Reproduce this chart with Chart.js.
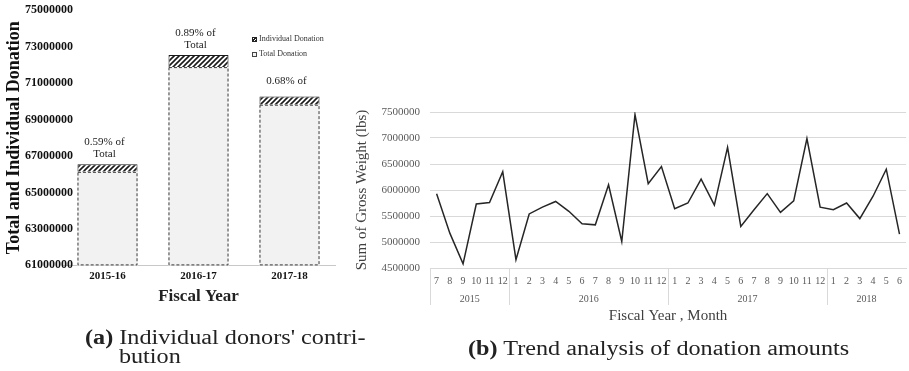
<!DOCTYPE html>
<html>
<head>
<meta charset="utf-8">
<script src="https://cdn.jsdelivr.net/npm/chart.js@4.4.1/dist/chart.umd.min.js"></script>
<style>
  body { margin: 0; background: #fff; }
  #page { position: relative; width: 909px; height: 371px; overflow: hidden; font-family: 'Liberation Serif', serif; }
  #donations { position: absolute; left: 0; top: 0; }
  #trend { position: absolute; left: 330px; top: 90px; }
  .legend { position: absolute; left: 252px; top: 31px; font-size: 8px; color: #333; line-height: 15px; }
  .legend span { display: inline-block; width: 5px; height: 5px; margin-right: 2px; vertical-align: -0.5px; box-sizing: border-box; }
  .sw-hatch { border: 1px solid #222; background: repeating-linear-gradient(-45deg, #222 0 1px, #fff 1px 2px); }
  .sw-dash { border: 1px dashed #444; background: #f2f2f2; }
  .caption { position: absolute; font-size: 20px; color: #222; line-height: 19px; transform: scaleX(1.21); transform-origin: 0 0; white-space: nowrap; }
  .caption b { font-weight: bold; }
</style>
</head>
<body>
<div id="page">
  <canvas id="donations" width="345" height="310"></canvas>
  <canvas id="trend" width="579" height="240"></canvas>
  <div class="legend">
    <div><span class="sw-hatch"></span>Individual Donation</div>
    <div><span class="sw-dash"></span>Total Donation</div>
  </div>
  <div class="caption" style="left:85px; top:328px;"><b>(a)</b> Individual donors' contri-<br><span style="padding-left:28px">bution</span></div>
  <div class="caption" style="left:468px; top:339px;"><b>(b)</b> Trend analysis of donation amounts</div>
</div>
<script>
// (a) fiscal year totals
const fiscalYears = ['2015-16', '2016-17', '2017-18'];
const totalDonation = [66130000, 71870000, 69810000];
const individualDonation = [420000, 670000, 450000];
const shareLabels = [['0.59% of', 'Total'], ['0.89% of', 'Total'], ['0.68% of']];

// (b) monthly gross weight
const months = ['7', '8', '9', '10', '11', '12',
    '1', '2', '3', '4', '5', '6', '7', '8', '9', '10', '11', '12',
    '1', '2', '3', '4', '5', '6', '7', '8', '9', '10', '11', '12',
    '1', '2', '3', '4', '5', '6'];
const years = ['2015', '2016', '2017', '2018'];
const monthsPerYear = [6, 12, 12, 6];
const grossWeight = [5930000, 5170000, 4580000, 5730000, 5760000, 6350000,
    4660000, 5540000, 5670000, 5780000, 5590000, 5350000, 5330000, 6100000, 5010000, 7450000, 6120000, 6450000,
    5640000, 5750000, 6210000, 5710000, 6820000, 5300000, 5620000, 5930000, 5570000, 5790000, 6990000, 5670000,
    5620000, 5750000, 5450000, 5880000, 6400000, 5150000];

const SERIF = "'Liberation Serif', 'Times New Roman', serif";

function hatchPattern(ctx) {
    const c = document.createElement('canvas');
    c.width = 5; c.height = 5;
    const g = c.getContext('2d');
    g.fillStyle = '#fff';
    g.fillRect(0, 0, 5, 5);
    g.strokeStyle = '#1a1a1a';
    g.lineWidth = 1.6;
    g.beginPath();
    g.moveTo(-1, 6); g.lineTo(6, -1);
    g.moveTo(-1, 1); g.lineTo(1, -1);
    g.moveTo(4, 6); g.lineTo(6, 4);
    g.stroke();
    return ctx.createPattern(c, 'repeat');
}

// dashed outline for the total bars + share labels above the stacks
const barDecor = {
    id: 'barDecor',
    afterDatasetsDraw(chart) {
        const ctx = chart.ctx;
        const bottom = chart.chartArea.bottom;
        ctx.save();
        ctx.setLineDash([3, 2]);
        ctx.strokeStyle = '#3a3a3a';
        ctx.lineWidth = 1;
        chart.getDatasetMeta(0).data.forEach(bar => {
            const p = bar.getProps(['x', 'y', 'base', 'width'], true);
            const base = Math.min(p.base, bottom);
            ctx.strokeRect(p.x - p.width / 2 + 0.5, p.y + 0.5, p.width - 1, base - p.y - 1);
        });
        ctx.setLineDash([]);
        ctx.fillStyle = '#222';
        ctx.font = '11px ' + SERIF;
        ctx.textAlign = 'center';
        ctx.textBaseline = 'middle';
        chart.getDatasetMeta(1).data.forEach((bar, i) => {
            const lines = shareLabels[i];
            const gap = lines.length > 1 ? 10 : 15;
            lines.forEach((t, j) => {
                ctx.fillText(t, bar.x - 3, bar.y - gap - (lines.length - 1 - j) * 12);
            });
        });
        ctx.restore();
    }
};

new Chart(document.getElementById('donations'), {
    type: 'bar',
    data: {
        labels: fiscalYears,
        datasets: [{
            label: 'Total Donation',
            data: totalDonation,
            backgroundColor: '#f2f2f2',
            borderWidth: 0,
            barPercentage: 0.66,
            categoryPercentage: 1
        }, {
            label: 'Individual Donation',
            data: individualDonation,
            backgroundColor: hatchPattern(document.getElementById('donations').getContext('2d')),
            borderColor: '#1a1a1a',
            borderWidth: 1,
            barPercentage: 0.66,
            categoryPercentage: 1
        }]
    },
    options: {
        responsive: false,
        animation: false,
        layout: { padding: { top: 10, right: 10, left: 0, bottom: 0 } },
        plugins: { legend: { display: false }, tooltip: { enabled: false } },
        scales: {
            x: {
                stacked: true,
                grid: { display: false, drawTicks: false },
                border: { display: true, color: '#c8c8c8' },
                ticks: { color: '#111', padding: 4, font: { family: SERIF, size: 11, weight: 'bold' } },
                title: { display: true, text: 'Fiscal Year', color: '#222', padding: { top: 0, bottom: 3 },
                    font: { family: SERIF, size: 17, weight: 'bold' } }
            },
            y: {
                stacked: true,
                min: 61000000,
                max: 75000000,
                grid: { display: false, drawTicks: false },
                border: { display: false },
                ticks: { stepSize: 2000000, mirror: true, padding: -37, color: '#111',
                    font: { family: SERIF, size: 12, weight: 'bold' },
                    callback: v => String(v) },
                title: { display: true, text: 'Total and Individual Donation', color: '#111', padding: { top: 4, bottom: 0 },
                    font: { family: SERIF, size: 18, weight: 'bold' } },
                afterFit: s => { s.width = 62; }
            }
        }
    },
    plugins: [barDecor]
});

// year grouping row under the month labels
const yearRow = {
    id: 'yearRow',
    afterDraw(chart) {
        const xs = chart.scales.x;
        const area = chart.chartArea;
        const ctx = chart.ctx;
        const step = xs.getPixelForValue(1) - xs.getPixelForValue(0);
        ctx.save();
        ctx.strokeStyle = '#d9d9d9';
        ctx.lineWidth = 1;
        ctx.fillStyle = '#595959';
        ctx.font = '10px ' + SERIF;
        ctx.textAlign = 'center';
        ctx.textBaseline = 'middle';
        let idx = 0;
        years.forEach((yr, i) => {
            const n = monthsPerYear[i];
            const x0 = xs.getPixelForValue(idx) - step / 2;
            const x1 = xs.getPixelForValue(idx + n - 1) + step / 2;
            ctx.beginPath();
            ctx.moveTo(Math.round(x0) + 0.5, area.bottom);
            ctx.lineTo(Math.round(x0) + 0.5, area.bottom + 37);
            ctx.stroke();
            ctx.fillText(yr, (x0 + x1) / 2, area.bottom + 31);
            idx += n;
        });
        ctx.restore();
    }
};

new Chart(document.getElementById('trend'), {
    type: 'line',
    data: {
        labels: months,
        datasets: [{
            label: 'Sum of Gross Weight (lbs)',
            data: grossWeight,
            borderColor: '#262626',
            borderWidth: 1.5,
            pointRadius: 0,
            tension: 0,
            fill: false
        }]
    },
    options: {
        responsive: false,
        animation: false,
        layout: { padding: { top: 22, right: 0, left: 20, bottom: 5 } },
        plugins: { legend: { display: false }, tooltip: { enabled: false } },
        scales: {
            x: {
                offset: true,
                grid: { display: false, drawTicks: false },
                border: { display: true, color: '#d9d9d9' },
                ticks: { autoSkip: false, maxRotation: 0, padding: 7, color: '#595959',
                    font: { family: SERIF, size: 10 } },
                title: { display: true, text: 'Fiscal Year , Month', color: '#404040', padding: { top: 13, bottom: 0 },
                    font: { family: SERIF, size: 15 } }
            },
            y: {
                min: 4500000,
                max: 7500000,
                grid: { color: '#d9d9d9', drawTicks: false },
                border: { display: false },
                ticks: { stepSize: 500000, padding: 10, color: '#595959',
                    font: { family: SERIF, size: 11 },
                    callback: v => String(v) },
                title: { display: true, text: 'Sum of Gross Weight (lbs)', color: '#404040', padding: { top: 3, bottom: 0 },
                    font: { family: SERIF, size: 15 } },
                afterFit: s => { s.width = 80; }
            }
        }
    },
    plugins: [yearRow]
});
</script>
</body>
</html>
